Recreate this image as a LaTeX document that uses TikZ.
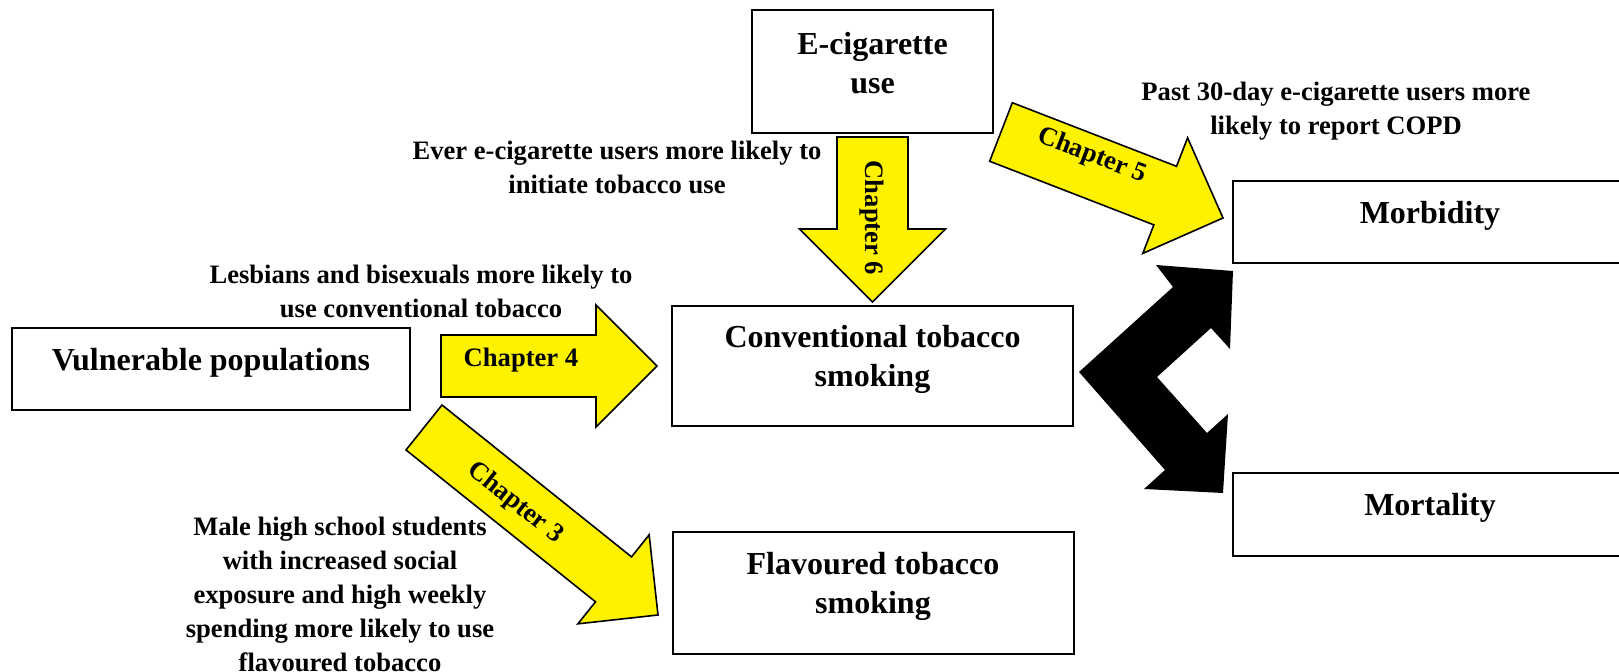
\documentclass[tikz,border=0pt]{standalone}
\usepackage{fontspec}
\setmainfont{Liberation Serif}
\usetikzlibrary{calc}

\tikzset{
  panel/.style={draw, line width=1pt, inner sep=0pt},
  boxtext/.style={font=\fontsize{16}{19.5}\selectfont\bfseries, align=center},
  note/.style={font=\fontsize{13.3}{17}\selectfont\bfseries, align=center},
  chap/.style={draw=black, fill=yellow, line width=0.8pt, line join=miter},
  chaplabel/.style={font=\fontsize{13.3}{16}\selectfont\bfseries}
}

% block arrow: #1 tail, #2 tip, #3 half shaft, #4 half head
\newcommand{\chaparrow}[4]{%
  \filldraw[chap] ($(#1)!#3!90:(#2)$)
    -- ($(#2)!#4!(#1)!#3!-90:(#1)$)
    -- ($(#2)!#4!(#1)!#4!-90:(#1)$)
    -- (#2)
    -- ($(#2)!#4!(#1)!#4!90:(#1)$)
    -- ($(#2)!#4!(#1)!#3!90:(#1)$)
    -- ($(#1)!#3!-90:(#2)$) -- cycle;
}

\begin{document}
\begin{tikzpicture}[x=0.5pt,y=-0.5pt]
  \useasboundingbox (0,0) rectangle (1619,672);
  \clip (0,0) rectangle (1619,672);

  % boxes
  \node[panel, minimum width=120.5pt, minimum height=61.5pt] (ecig) at (872.5,71.5) {};
  \node[panel, minimum width=199pt, minimum height=41pt] (vuln) at (211,369) {};
  \node[panel, minimum width=200.5pt, minimum height=60pt] (conv) at (872.5,366) {};
  \node[panel, minimum width=200.5pt, minimum height=61pt] (flav) at (873,593) {};
  \node[panel, minimum width=197pt, minimum height=41pt] (morb) at (1430,222) {};
  \node[panel, minimum width=197pt, minimum height=41.5pt] (mort) at (1430,514.5) {};

  \node[boxtext] (ecigtext) at ([yshift=4pt]ecig) {E-cigarette\\use};
  \node[boxtext] (vulntext) at ([yshift=3pt]vuln) {Vulnerable populations};
  \node[boxtext] (convtext) at ([yshift=3.5pt]conv) {Conventional tobacco\\smoking};
  \node[boxtext] (flavtext) at ([yshift=3.5pt]flav) {Flavoured tobacco\\smoking};
  \node[boxtext] (morbtext) at ([yshift=3pt]morb) {Morbidity};
  \node[boxtext] (morttext) at ([yshift=3.5pt]mort) {Mortality};

  % chapter arrows
  \coordinate (c4tail) at (441,366);
  \coordinate (c4tip) at (657,366);
  \coordinate (c6tail) at (872.5,137);
  \coordinate (c6tip) at (872.5,302);
  \coordinate (c3tail) at (424,427.5);
  \coordinate (c3tip) at (658,615);
  \coordinate (c5tail) at (1001,132);
  \coordinate (c5tip) at (1223,218);
  \chaparrow{c4tail}{c4tip}{15.5pt}{30.5pt}
  \chaparrow{c6tail}{c6tip}{17.75pt}{36.5pt}
  \chaparrow{c3tail}{c3tip}{14.4pt}{28.5pt}
  \chaparrow{c5tail}{c5tip}{15.7pt}{31pt}

  \node[chaplabel] (ch4) at (521,360) {Chapter 4};
  \node[chaplabel, rotate=-90] (ch6) at (872,218) {Chapter 6};
  \node[chaplabel, rotate=-38.5] (ch3) at (515,503) {Chapter 3};
  \node[chaplabel, rotate=-21] (ch5) at (1092,156) {Chapter 5};

  % outcome bracket
  \fill[black] (1079,372) -- (1173,287) -- (1156,265) -- (1233,271)
    -- (1230,349) -- (1211,328) -- (1157,377) -- (1207,433) -- (1228,414)
    -- (1223,493) -- (1144,489) -- (1165,470) -- cycle;

  % findings
  \node[note] (evernote) at (617,167) {Ever e-cigarette users more likely to\\initiate tobacco use};
  \node[note] (pastnote) at (1336,111) {Past 30-day e-cigarette users more\\likely to report COPD};
  \node[note] (lesbnote) at (421,291) {Lesbians and bisexuals more likely to\\use conventional tobacco};
  \node[note] (malenote) at (340,594) {Male high school students\\with increased social\\exposure and high weekly\\spending more likely to use\\flavoured tobacco};
\end{tikzpicture}
\end{document}
